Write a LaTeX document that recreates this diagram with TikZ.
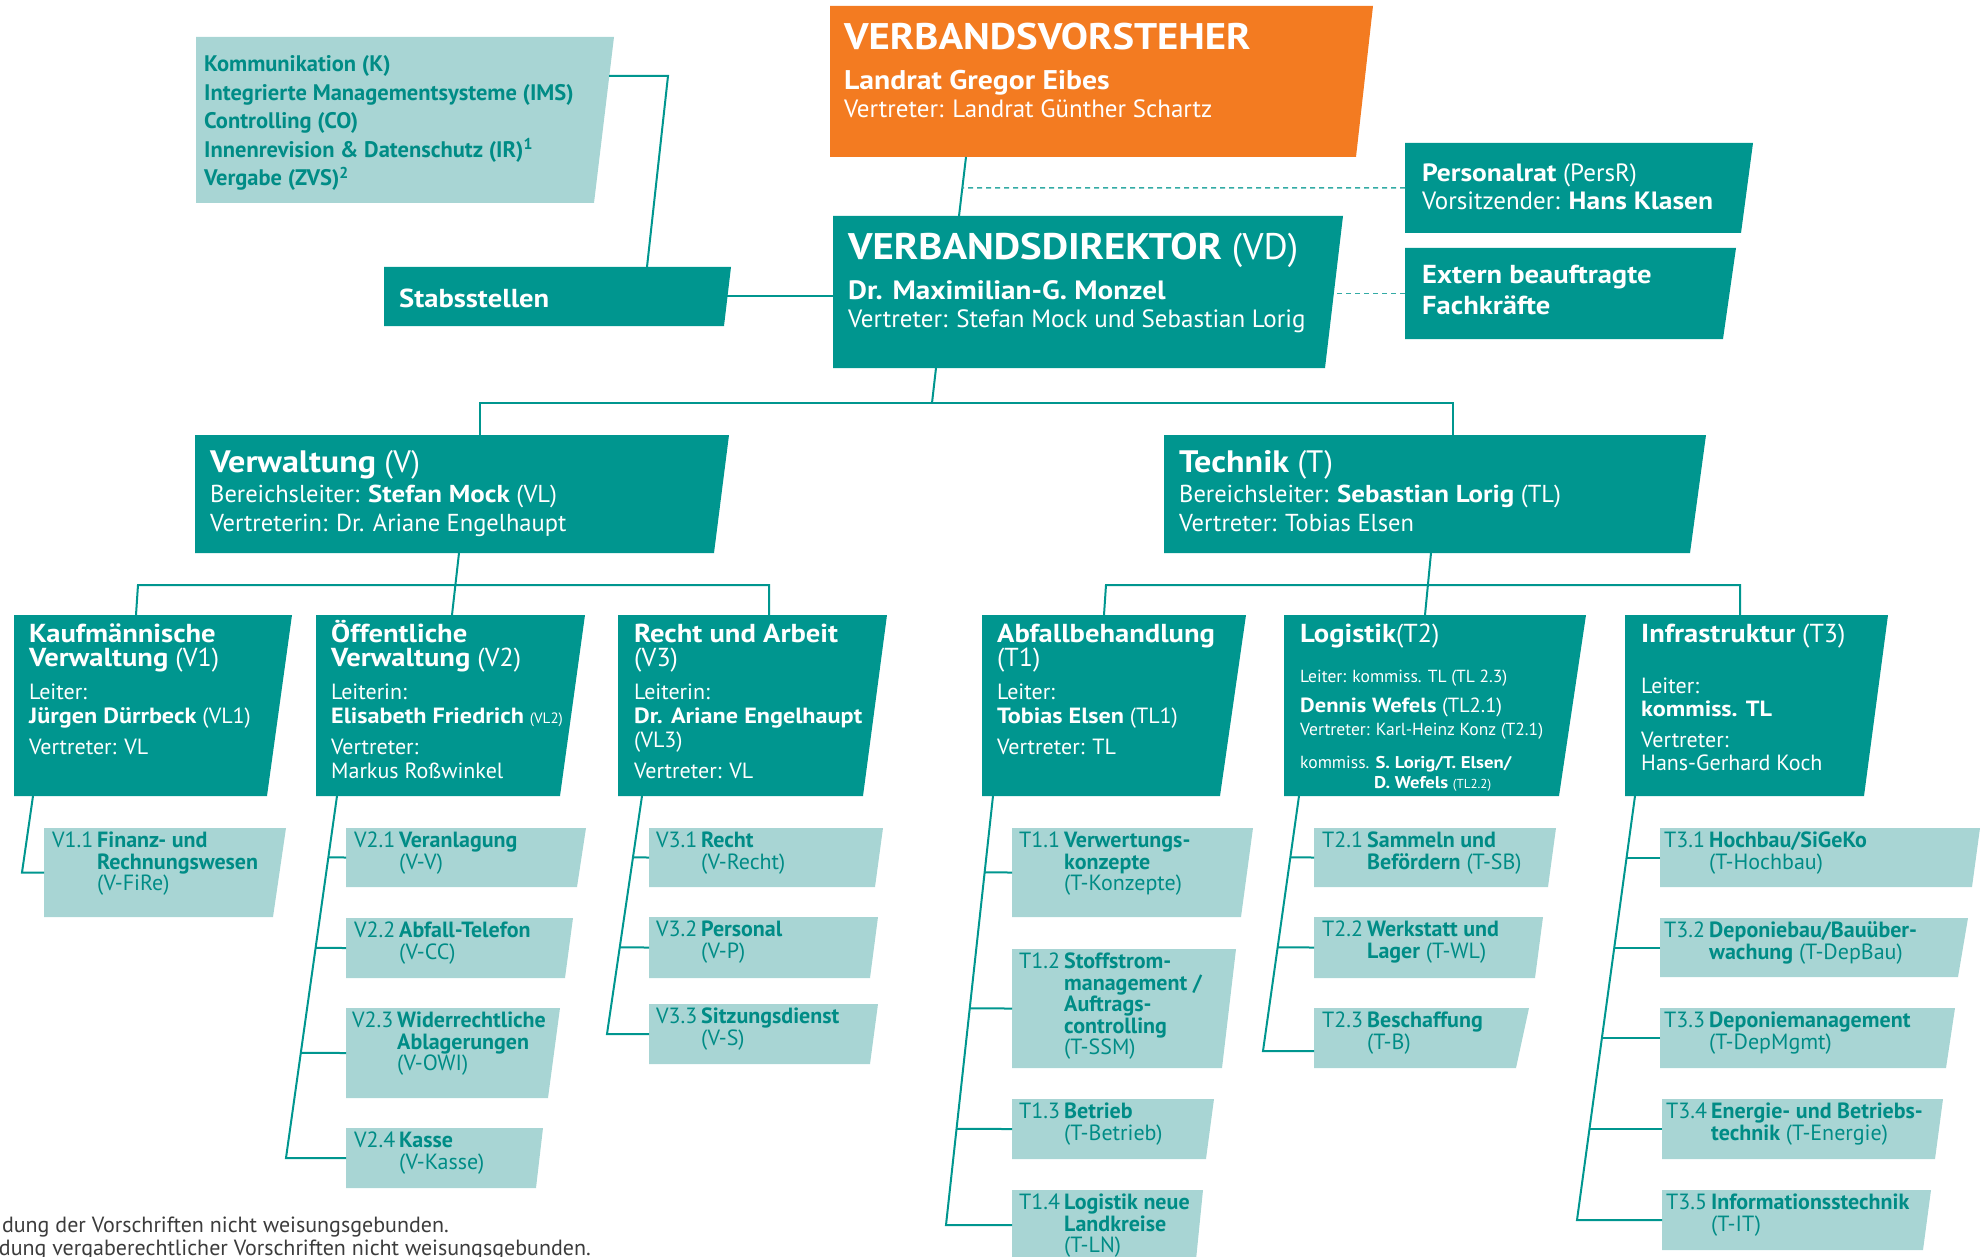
\documentclass[tikz,border=0pt]{standalone}
\usepackage{fontspec}
\setmainfont{PT Sans}[BoldFeatures={FakeStretch=1.1}]
\newfontfamily\plainsans{PT Sans}
\definecolor{vdark}{RGB}{0,150,143}
\definecolor{vpale}{RGB}{168,213,212}
\definecolor{vorange}{RGB}{243,123,33}
\definecolor{vtext}{RGB}{0,140,134}
\definecolor{vfoot}{RGB}{60,60,60}
\newcommand\fsz[1]{\fontsize{#1}{#1}\selectfont}
\newcommand\rowgap[1]{\noalign{\vskip#1pt}}
\newcommand\boxlines[2]{\vtop{\baselineskip=#1pt\lineskiplimit=-\maxdimen
  \halign{##\hfil\cr#2\crcr}}}
\newcommand\sublines[2]{\vtop{\baselineskip=#1pt\lineskiplimit=-\maxdimen
  \halign{\hbox to 45pt{##\hfil}&##\hfil\cr#2\crcr}}}
\tikzset{
  boxcut/.store in=\boxcut, boxcut=10,
  orgbox/.style={rectangle, anchor=north west, inner sep=0pt, outer sep=0pt,
    path picture={\fill[#1] (path picture bounding box.north west)
      -- (path picture bounding box.north east)
      -- ([xshift=-\boxcut]path picture bounding box.south east)
      -- (path picture bounding box.south west) -- cycle;}},
  dark/.style n args={3}{orgbox=vdark, minimum width=#1, minimum height=#2, boxcut=#3},
  pale/.style n args={3}{orgbox=vpale, minimum width=#1, minimum height=#2, boxcut=#3},
  head/.style n args={3}{orgbox=vorange, minimum width=#1, minimum height=#2, boxcut=#3},
  wtxt/.style={anchor=base west, inner sep=0pt, text=white, font=\fontsize{22}{24}\selectfont},
  ptxt/.style={anchor=base west, inner sep=0pt, text=vtext, font=\plainsans\fontsize{22}{21.5}\selectfont},
  foot/.style={anchor=base east, inner sep=0pt, text=vfoot, font=\fontsize{22}{22}\selectfont},
  conn/.style={draw=vdark, line width=2pt},
  dashline/.style={draw=vdark!80, line width=1.5pt, dash pattern=on 5pt off 4pt}
}
\begin{document}
\begin{tikzpicture}[x=1pt, y=-1pt]
\clip (0,0) rectangle (1981,1257);
% boxes
\node[pale={418}{166}{20}] (stabl) at (196,37) {};
\node[dark={347}{59}{7}] (stabs) at (384,267) {};
\node[head={543}{151}{17}] (vorst) at (830,6) {};
\node[dark={510}{152}{18}] (vd) at (833,216) {};
\node[dark={348}{90}{12}] (persr) at (1405,143) {};
\node[dark={331}{91}{13}] (extern) at (1405,248) {};
\node[dark={534}{118}{15}] (verw) at (195,435) {};
\node[dark={542}{118}{16}] (tech) at (1164,435) {};
\node[dark={278}{181}{25}] (v1) at (14,615) {};
\node[dark={269}{181}{25}] (v2) at (316,615) {};
\node[dark={269}{181}{24}] (v3) at (618,615) {};
\node[dark={264}{181}{26}] (t1) at (982,615) {};
\node[dark={302}{181}{27}] (t2) at (1284,615) {};
\node[dark={263}{181}{24}] (t3) at (1625,615) {};
\node[pale={242}{89}{13}] (v11) at (44,828) {};
\node[pale={240}{59}{9}] (v21) at (346,828) {};
\node[pale={227}{60}{8}] (v22) at (346,918) {};
\node[pale={214}{90}{12}] (v23) at (346,1008) {};
\node[pale={197}{60}{7}] (v24) at (346,1128) {};
\node[pale={234}{59}{8}] (v31) at (649,828) {};
\node[pale={229}{61}{8}] (v32) at (649,917) {};
\node[pale={229}{60}{8}] (v33) at (649,1004) {};
\node[pale={241}{89}{12}] (t11) at (1012,828) {};
\node[pale={224}{119}{14}] (t12) at (1012,949) {};
\node[pale={202}{60}{8}] (t13) at (1012,1099) {};
\node[pale={191}{70}{7}] (t14) at (1012,1190) {};
\node[pale={242}{59}{8}] (t21) at (1314,828) {};
\node[pale={229}{61}{8}] (t22) at (1314,917) {};
\node[pale={215}{60}{13}] (t23) at (1314,1008) {};
\node[pale={320}{59}{8}] (t31) at (1660,828) {};
\node[pale={308}{59}{10}] (t32) at (1660,918) {};
\node[pale={295}{60}{9}] (t33) at (1660,1008) {};
\node[pale={281}{60}{8}] (t34) at (1662,1099) {};
\node[pale={269}{60}{8}] (t35) at (1662,1190) {};
% texts of the upper boxes
\node[ptxt, font=\plainsans\fontsize{22.5}{28.5}\selectfont\bfseries] (stablt) at (204,72) {\boxlines{28.5}{Kommunikation (K)\cr
  Integrierte Managementsysteme (IMS)\cr Controlling (CO)\cr
  Innenrevision \& Datenschutz (IR)\textsuperscript{1}\cr Vergabe (ZVS)\textsuperscript{2}}};
\node[wtxt, font=\fontsize{26}{28}\selectfont\bfseries] (stabst) at (399,308) {Stabsstellen};
\node[wtxt, font=\fontsize{25}{28}\selectfont] (vorstt) at (844,50) {\boxlines{28}{\fsz{37}\bfseries VERBANDSVORSTEHER\cr\rowgap{12}
  \fsz{27}\bfseries Landrat Gregor Eibes\cr Vertreter: Landrat Günther Schartz}};
\node[wtxt, font=\fontsize{25}{28}\selectfont] (vdt) at (848,260) {\boxlines{28}{\fsz{37}\textbf{VERBANDSDIREKTOR} (VD)\cr\rowgap{12}
  \fsz{26.5}\bfseries Dr. Maximilian-G. Monzel\cr Vertreter: Stefan Mock und Sebastian Lorig}};
\node[wtxt, font=\fontsize{25}{28}\selectfont] (persrt) at (1422,182) {\boxlines{28}{\textbf{Personalrat} (PersR)\cr
  Vorsitzender: \textbf{Hans Klasen}}};
\node[wtxt, font=\fontsize{26}{31}\selectfont\bfseries] (externt) at (1422,284) {\boxlines{31}{Extern beauftragte\cr Fachkräfte}};
\node[wtxt, font=\fontsize{24.5}{29}\selectfont] (verwt) at (210,472) {\boxlines{29}{\fsz{31}\textbf{Verwaltung} (V)\cr\rowgap{1}
  Bereichsleiter: \textbf{Stefan Mock} (VL)\cr Vertreterin: Dr. Ariane Engelhaupt}};
\node[wtxt, font=\fontsize{24.5}{29}\selectfont] (techt) at (1179,472) {\boxlines{29}{\fsz{31}\textbf{Technik} (T)\cr\rowgap{1}
  Bereichsleiter: \textbf{Sebastian Lorig} (TL)\cr Vertreter: Tobias Elsen}};
% texts of the departments
\node[wtxt] (v1t) at (29,642) {\boxlines{24}{\fsz{26}\bfseries Kaufmännische\cr \fsz{26}\textbf{Verwaltung} (V1)\cr\rowgap{9.5}
  Leiter:\cr \textbf{Jürgen Dürrbeck} (VL1)\cr\rowgap{7} Vertreter: VL}};
\node[wtxt] (v2t) at (331,642) {\boxlines{24}{\fsz{26}\bfseries Öffentliche\cr \fsz{26}\textbf{Verwaltung} (V2)\cr\rowgap{9.5}
  Leiterin:\cr \textbf{Elisabeth Friedrich} {\fsz{15}(VL2)}\cr\rowgap{7} Vertreter:\cr Markus Roßwinkel}};
\node[wtxt] (v3t) at (634,642) {\boxlines{24}{\fsz{26}\bfseries Recht und Arbeit\cr \fsz{26}(V3)\cr\rowgap{9}
  Leiterin:\cr \textbf{Dr. Ariane Engelhaupt}\cr (VL3)\cr\rowgap{7} Vertreter: VL}};
\node[wtxt] (t1t) at (997,642) {\boxlines{24}{\fsz{26}\bfseries Abfallbehandlung\cr \fsz{26}(T1)\cr\rowgap{9.5}
  Leiter:\cr \textbf{Tobias Elsen} (TL1)\cr\rowgap{7} Vertreter: TL}};
\node[wtxt, font=\fontsize{17.5}{20}\selectfont] (t2t) at (1300,642) {\boxlines{20}{\fsz{26}\textbf{Logistik}(T2)\cr\rowgap{20}
  Leiter: kommiss. TL (TL 2.3)\cr\rowgap{10} \fsz{20.5}\textbf{Dennis Wefels} (TL2.1)\cr\rowgap{3}
  Vertreter: Karl-Heinz Konz (T2.1)\cr\rowgap{13} kommiss. {\fsz{17}\bfseries S. Lorig/T. Elsen/}\cr
  \phantom{kommiss.\ }{\fsz{17}\bfseries D. Wefels} {\fsz{13}(TL2.2)}}};
\node[wtxt] (t3t) at (1641,642) {\boxlines{22.5}{\fsz{26}\textbf{Infrastruktur} (T3)\cr\rowgap{29}
  Leiter:\cr \textbf{kommiss. TL}\cr\rowgap{9} Vertreter:\cr Hans-Gerhard Koch}};
% texts of the units
\node[ptxt] (v11t) at (52,847.5) {\sublines{21.5}{V1.1&\textbf{Finanz- und}\cr&\textbf{Rechnungswesen}\cr&(V-FiRe)}};
\node[ptxt] (v21t) at (354,847.5) {\sublines{21.5}{V2.1&\textbf{Veranlagung}\cr&(V-V)}};
\node[ptxt] (v22t) at (354,937.5) {\sublines{21.5}{V2.2&\textbf{Abfall-Telefon}\cr&(V-CC)}};
\node[ptxt] (v23t) at (352,1027.5) {\sublines{21.5}{V2.3&\textbf{Widerrechtliche}\cr&\textbf{Ablagerungen}\cr&(V-OWI)}};
\node[ptxt] (v24t) at (354,1147.5) {\sublines{21.5}{V2.4&\textbf{Kasse}\cr&(V-Kasse)}};
\node[ptxt] (v31t) at (656,847.5) {\sublines{21.5}{V3.1&\textbf{Recht}\cr&(V-Recht)}};
\node[ptxt] (v32t) at (656,936.5) {\sublines{21.5}{V3.2&\textbf{Personal}\cr&(V-P)}};
\node[ptxt] (v33t) at (656,1023.5) {\sublines{21.5}{V3.3&\textbf{Sitzungsdienst}\cr&(V-S)}};
\node[ptxt] (t11t) at (1019,847.5) {\sublines{21.5}{T1.1&\textbf{Verwertungs-}\cr&\textbf{konzepte}\cr&(T-Konzepte)}};
\node[ptxt] (t12t) at (1019,968.5) {\sublines{21.5}{T1.2&\textbf{Stoffstrom-}\cr&\textbf{management /}\cr&\textbf{Auftrags-}\cr&\textbf{controlling}\cr&(T-SSM)}};
\node[ptxt] (t13t) at (1019,1118.5) {\sublines{21.5}{T1.3&\textbf{Betrieb}\cr&(T-Betrieb)}};
\node[ptxt] (t14t) at (1019,1209.5) {\sublines{21.5}{T1.4&\textbf{Logistik neue}\cr&\textbf{Landkreise}\cr&(T-LN)}};
\node[ptxt] (t21t) at (1322,847.5) {\sublines{21.5}{T2.1&\textbf{Sammeln und}\cr&\textbf{Befördern} (T-SB)}};
\node[ptxt] (t22t) at (1322,936.5) {\sublines{21.5}{T2.2&\textbf{Werkstatt und}\cr&\textbf{Lager} (T-WL)}};
\node[ptxt] (t23t) at (1322,1027.5) {\sublines{21.5}{T2.3&\textbf{Beschaffung}\cr&(T-B)}};
\node[ptxt] (t31t) at (1664,847.5) {\sublines{21.5}{T3.1&\textbf{Hochbau/SiGeKo}\cr&(T-Hochbau)}};
\node[ptxt] (t32t) at (1664,937.5) {\sublines{21.5}{T3.2&\textbf{Deponiebau/Bauüber-}\cr&\textbf{wachung} (T-DepBau)}};
\node[ptxt] (t33t) at (1664,1027.5) {\sublines{21.5}{T3.3&\textbf{Deponiemanagement}\cr&(T-DepMgmt)}};
\node[ptxt] (t34t) at (1666,1118.5) {\sublines{21.5}{T3.4&\textbf{Energie- und Betriebs-}\cr&\textbf{technik} (T-Energie)}};
\node[ptxt] (t35t) at (1666,1209.5) {\sublines{21.5}{T3.5&\textbf{Informationsstechnik}\cr&(T-IT)}};
% footnotes
\node[foot] (fn1) at (449,1232) {dung der Vorschriften nicht weisungsgebunden.};
\node[foot] (fn2) at (591,1255) {dung vergaberechtlicher Vorschriften nicht weisungsgebunden.};
% connectors, top
\coordinate (vtop) at ([xshift=136]vorst.south west);
\coordinate (vdin) at ([xshift=126]vd.north west);
\draw[conn] (vtop) -- (vdin);
\draw[dashline] (persr.west) -- (intersection of vtop--vdin and persr.west--persr.east);
\draw[dashline] (extern.west) -- ([xshift=-9]vd.east |- extern.west);
\draw[conn] ([shift={(-5,39)}]stabl.north east) -- ++(59,0) -- ([xshift=263]stabs.north west);
\draw[conn] ([xshift=-4]stabs.east) -- (stabs.east -| vd.west);
\draw[conn] ([xshift=103]vd.south west) -- ++(-4,35);
\draw[conn] ([xshift=285]verw.north west) -- ++(0,-32) -| ([xshift=289]tech.north west);
\draw[conn] ([xshift=264]verw.south west) -- ([xshift=136]v2.north west);
\draw[conn] ([xshift=122]v1.north west) -- ++(2,-30) -| ([xshift=151]v3.north west);
\draw[conn] ([xshift=267]tech.south west) -- ([xshift=141]t2.north west);
\draw[conn] ([xshift=122]t1.north west) -- ++(2,-30) -| ([xshift=115]t3.north west);
% connectors, units
\draw[conn] ([xshift=19]v1.south west) -- ([xshift=-22]v11.west) -- (v11.west);
\coordinate (v2a) at ([xshift=21]v2.south west);
\coordinate (v2b) at ([xshift=-60]v24.west);
\draw[conn] (v2a) -- (v2b) -- (v24.west);
\draw[conn] (v21.west) -- (intersection of v2a--v2b and v21.west--v21.east);
\draw[conn] (v22.west) -- (intersection of v2a--v2b and v22.west--v22.east);
\draw[conn] (v23.west) -- (intersection of v2a--v2b and v23.west--v23.east);
\coordinate (v3a) at ([xshift=24]v3.south west);
\coordinate (v3b) at ([xshift=-42]v33.west);
\draw[conn] (v3a) -- (v3b) -- (v33.west);
\draw[conn] (v31.west) -- (intersection of v3a--v3b and v31.west--v31.east);
\draw[conn] (v32.west) -- (intersection of v3a--v3b and v32.west--v32.east);
\coordinate (t1a) at ([xshift=11]t1.south west);
\coordinate (t1b) at ([xshift=-66]t14.west);
\draw[conn] (t1a) -- (t1b) -- (t14.west);
\draw[conn] (t11.west) -- (intersection of t1a--t1b and t11.west--t11.east);
\draw[conn] (t12.west) -- (intersection of t1a--t1b and t12.west--t12.east);
\draw[conn] (t13.west) -- (intersection of t1a--t1b and t13.west--t13.east);
\coordinate (t2a) at ([xshift=15]t2.south west);
\coordinate (t2b) at ([shift={(-51,13)}]t23.west);
\draw[conn] (t2a) -- (t2b) -- (t2b -| t23.west);
\draw[conn] (t21.west) -- (intersection of t2a--t2b and t21.west--t21.east);
\draw[conn] (t22.west) -- (intersection of t2a--t2b and t22.west--t22.east);
\coordinate (t3a) at ([xshift=10]t3.south west);
\coordinate (t3b) at ([xshift=-85]t35.west);
\draw[conn] (t3a) -- (t3b) -- (t35.west);
\draw[conn] (t31.west) -- (intersection of t3a--t3b and t31.west--t31.east);
\draw[conn] (t32.west) -- (intersection of t3a--t3b and t32.west--t32.east);
\draw[conn] (t33.west) -- (intersection of t3a--t3b and t33.west--t33.east);
\draw[conn] (t34.west) -- (intersection of t3a--t3b and t34.west--t34.east);
\end{tikzpicture}
\end{document}
